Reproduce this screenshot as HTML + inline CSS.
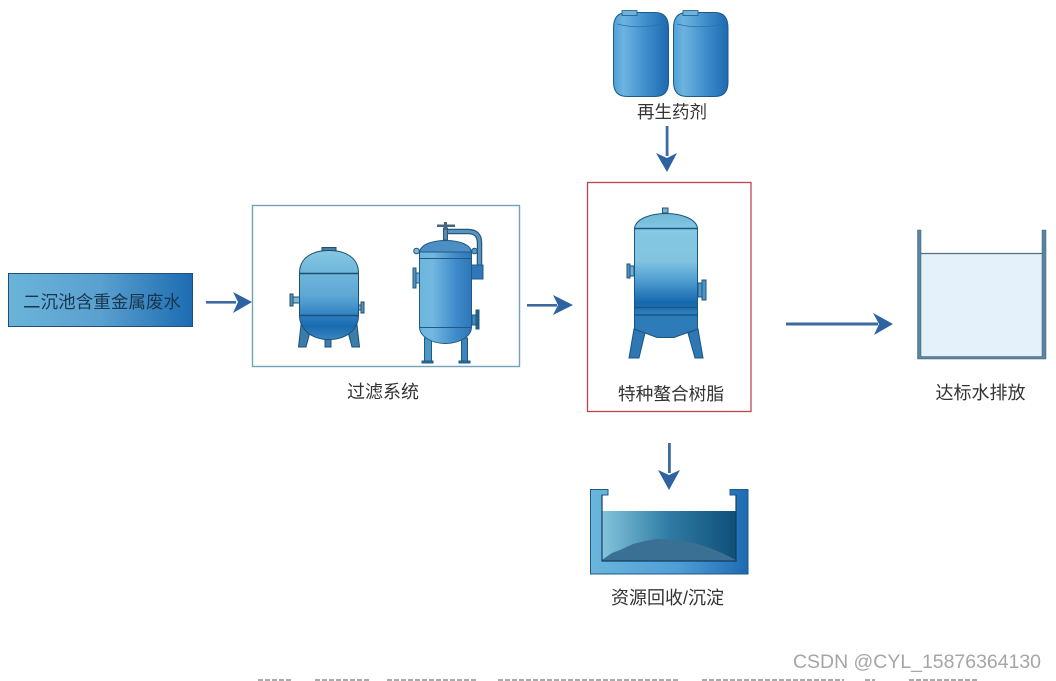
<!DOCTYPE html>
<html><head><meta charset="utf-8">
<style>
html,body{margin:0;padding:0;background:#fff}
svg{display:block;filter:blur(.35px)}
text{font-family:"Liberation Sans","Noto Sans CJK SC",sans-serif;fill:#333}
</style></head>
<body>
<svg width="1056" height="681" viewBox="0 0 1056 681" xmlns="http://www.w3.org/2000/svg">
<defs>
<linearGradient id="h1" x1="0" x2="1" y1="0" y2="0"><stop offset="0" stop-color="#4f9fd6"/><stop offset=".18" stop-color="#6cb4e0"/><stop offset=".6" stop-color="#3f8ccb"/><stop offset="1" stop-color="#1c69b0"/></linearGradient>
<linearGradient id="box" x1="0" x2="1" y1="0" y2="0"><stop offset="0" stop-color="#6ab4d8"/><stop offset=".5" stop-color="#5aa0d0"/><stop offset="1" stop-color="#1c6cb2"/></linearGradient>
<linearGradient id="t1" x1="0" x2="0" y1="0" y2="1"><stop offset="0" stop-color="#86c8e2"/><stop offset=".25" stop-color="#6fb6da"/><stop offset=".5" stop-color="#5fa8d6"/><stop offset=".75" stop-color="#2a7dbf"/><stop offset=".85" stop-color="#176bb0"/><stop offset="1" stop-color="#3a86c0"/></linearGradient>
<linearGradient id="t2" x1="0" x2="1" y1="0" y2="0"><stop offset="0" stop-color="#6cb6de"/><stop offset=".25" stop-color="#72b8e0"/><stop offset=".7" stop-color="#3f8aca"/><stop offset="1" stop-color="#2e77b8"/></linearGradient>
<linearGradient id="t3" x1="0" x2="0" y1="0" y2="1"><stop offset="0" stop-color="#70b8d8"/><stop offset=".14" stop-color="#84c8e2"/><stop offset=".38" stop-color="#82c4e0"/><stop offset=".55" stop-color="#4d9bd0"/><stop offset=".72" stop-color="#1567ae"/><stop offset=".8" stop-color="#2c7cbc"/><stop offset="1" stop-color="#2f7bb6"/></linearGradient>
<linearGradient id="water" x1="0" x2="1" y1="0" y2="0"><stop offset="0" stop-color="#84c4dc"/><stop offset=".5" stop-color="#2f7ba4"/><stop offset="1" stop-color="#0f4f78"/></linearGradient>
<linearGradient id="wall" x1="0" x2="1" y1="0" y2="0"><stop offset="0" stop-color="#6ab6dc"/><stop offset=".55" stop-color="#4f9ed6"/><stop offset="1" stop-color="#1e6ab2"/></linearGradient>
</defs>
<rect width="1056" height="681" fill="#fff"/>

<!-- jugs -->
<g stroke="#1d5a86" stroke-width="1">
<path d="M627 12.500 H655 Q668.500 12.500 668.500 28 V82 Q668.500 96.500 655 96.500 H627 Q613.500 96.500 613.500 82 V28 Q613.500 12.500 627 12.500Z" fill="url(#h1)"/>
<rect x="622" y="10.500" width="15" height="5" fill="#6fb2dc" stroke-width=".8"/>
<path d="M617 24q24 6 49 -1" fill="none" stroke="#2a70a8" stroke-width=".8"/>
<path d="M687 12.500 H715 Q728 12.500 728 28 V82 Q728 96.500 715 96.500 H687 Q673.500 96.500 673.500 82 V28 Q673.500 12.500 687 12.500Z" fill="url(#h1)"/>
<rect x="683" y="10.500" width="15" height="5" fill="#6fb2dc" stroke-width=".8"/>
<path d="M677 24q24 6 49 -1" fill="none" stroke="#2a70a8" stroke-width=".8"/>
</g>
<text x="672" y="118" font-size="17.500" text-anchor="middle">再生药剂</text>

<!-- arrows -->
<g fill="#2d62a3" stroke="none">
<rect x="665.700" y="126" width="2.800" height="30" fill="#3e6b9f"/>
<path d="M656 153 L667 158 L677 153 L667 172Z"/>
<rect x="206" y="301" width="30" height="2.600" fill="#3e6b9f"/>
<path d="M233 292 L252 302 L233 313 L238 302Z"/>
<rect x="527" y="304" width="30" height="2.600" fill="#3e6b9f"/>
<path d="M553 295 L573 305 L553 315 L558 305Z"/>
<rect x="786" y="322.500" width="92" height="3" fill="#3e6b9f"/>
<path d="M873 313 L893 324 L874 335 L879 324Z"/>
<rect x="668" y="443" width="2.800" height="30" fill="#3e6b9f"/>
<path d="M658 470 L669 475 L680 470 L669 490Z"/>
</g>

<!-- source box -->
<rect x="8.500" y="273.500" width="184" height="53" fill="url(#box)" stroke="#1f4f78" stroke-width="1"/>
<text x="102" y="308" font-size="17.500" text-anchor="middle" textLength="158" style="fill:#17374f">二沉池含重金属废水</text>

<!-- filter box -->
<rect x="252.500" y="205.500" width="267" height="161" fill="#fff" stroke="#6fa3b8" stroke-width="1.400"/>

<!-- tank 1 -->
<g stroke="#1d4f72" stroke-width="1">
<path d="M301 325 L298.500 347 H306 L310 332Z" fill="#3a7cab"/>
<path d="M357 325 L359.500 347 H352 L348 332Z" fill="#3a7cab"/>
<rect x="325" y="338" width="6" height="9" fill="#3a7cab"/>
<rect x="322" y="247.500" width="14" height="4" fill="#4a7c9c"/>
<rect x="290" y="294" width="3" height="12" fill="#5b93b6"/>
<rect x="293" y="297" width="7" height="6" fill="#7cb8d8"/>
<rect x="358" y="305" width="3" height="5" fill="#7cb8d8"/>
<rect x="361" y="302" width="3" height="11" fill="#5b93b6"/>
<path d="M299.500 273 C299.500 258 312 250.500 329 250.500 C346 250.500 358.500 258 358.500 273 V315 C358.500 330 346 339.500 329 339.500 C312 339.500 299.500 330 299.500 315Z" fill="url(#t1)"/>
<path d="M299.500 273.500H358.500M299.500 315.500H358.500" fill="none" stroke-width="1.600"/>
</g>

<!-- tank 2 -->
<g stroke="#1f5a82" stroke-width="1">
<rect x="424.500" y="338" width="7" height="24" fill="#4d97c8"/>
<rect x="461.500" y="338" width="6" height="24" fill="#3c86bc"/>
<rect x="422" y="361" width="11" height="2" fill="#2f6f9a"/>
<rect x="459" y="361" width="11" height="2" fill="#2f6f9a"/>
<rect x="413" y="268" width="3" height="20" fill="#5e93b4"/>
<rect x="416" y="273" width="3.500" height="10" fill="#6eb0d8"/>
<rect x="476" y="310" width="3" height="19" fill="#27608c"/>
<rect x="472" y="315" width="4" height="10" fill="#3d88c0"/>
<path d="M443 231.500 H468 Q479.500 231.500 479.500 243 V265" fill="none" stroke="#1f5a82" stroke-width="5.500"/>
<path d="M443 231.500 H468 Q479.500 231.500 479.500 243 V265" fill="none" stroke="#5c93b8" stroke-width="3"/>
<rect x="471.500" y="265" width="11.500" height="14" fill="#2f77b8"/>
<rect x="443.500" y="228" width="4" height="12" fill="#5d8aa8"/>
<rect x="437" y="224.500" width="18" height="2.500" fill="#45667e" stroke="none"/>
<rect x="444" y="222" width="3" height="8" fill="#45667e" stroke="none"/>
<path d="M419.500 252 C421 244 433 240.500 445.500 240.500 C459 240.500 470 244 471.500 252Z" fill="#4d8fc4"/>
<circle cx="416.500" cy="251" r="2.800" fill="#89b7ce"/>
<circle cx="474.500" cy="251" r="2.800" fill="#5f97b8"/>
<path d="M419.500 252 H471.500 V327 C471.500 336 460 343.500 445.500 343.500 C431 343.500 419.500 336 419.500 327Z" fill="url(#t2)"/>
<path d="M419.500 258.500H471.500M419.500 327.500H471.500" fill="none"/>
</g>

<!-- red box -->
<rect x="587.500" y="182.500" width="163.500" height="229" fill="#fff" stroke="#c0444f" stroke-width="1.300"/>

<!-- main tank -->
<g stroke="#1b567f" stroke-width="1">
<path d="M634 329 L629 358 H639 L645 333Z" fill="#2f77b4"/>
<path d="M698 329 L703 358 H695 L688 333Z" fill="#2f77b4"/>
<rect x="662.500" y="208" width="5.500" height="5" fill="#7cb0cc"/>
<rect x="627" y="264" width="3" height="14" fill="#5d8fbc"/>
<rect x="630" y="266" width="4" height="10" fill="#6fb3d8"/>
<rect x="698" y="283" width="4" height="14" fill="#4f98c8"/>
<rect x="702" y="280" width="4" height="20" fill="#4d97c8"/>
<path d="M634.500 228 C636 219 650 213.500 666 213.500 C682 213.500 696 219 697.500 228 V329 L674 337.500 H657 L634.500 329Z" fill="url(#t3)"/>
<path d="M634.500 228.500H697.500M634.500 307.500H697.500M634.500 315H697.500" fill="none" stroke-width="1.500"/>
</g>
<text x="671" y="400" font-size="17.700" text-anchor="middle">特种螯合树脂</text>
<text x="383" y="398" font-size="18" text-anchor="middle">过滤系统</text>

<!-- right tank -->
<rect x="921" y="253" width="121" height="103" fill="#e4f1fb"/>
<path d="M921 253.500H1042" stroke="#4c6f84" stroke-width="1.200"/>
<path d="M921 356.500H1042V230H1046V359H917.500V230H921Z" fill="#5a84a0" stroke="#3a6078" stroke-width=".5"/>
<text x="980.500" y="399" font-size="18" text-anchor="middle">达标水排放</text>

<!-- basin -->
<path d="M590.500 489.500 H608 V495 H602 V561 H736 V495 H730 V489.500 H748 V574 H590.500Z" fill="url(#wall)" stroke="#1f5a82" stroke-width="1"/>
<rect x="602" y="511" width="134" height="50" fill="url(#water)"/>
<path d="M602 560 L612 553 L620 550 L633 544 L645 541 L657 539 L680 540 L695 543 L707 547 L722 553 L736 560 V561 H602Z" fill="#3a7094"/>
<path d="M602 495 V561 H736 V495" fill="none" stroke="#123f60" stroke-width="1.200"/>
<text x="667.500" y="604" font-size="18" text-anchor="middle">资源回收/沉淀</text>

<!-- watermark -->
<text x="793" y="668" font-size="19" textLength="248" lengthAdjust="spacingAndGlyphs" style="fill:#a6a6a6">CSDN @CYL_15876364130</text>
<!-- unreadable cut-off line at the bottom edge, drawn as faint marks -->
<path d="M258 680H291M315 680H371M387 680H477M498 680H679M702 680H844M865 680H875M909 680H979" fill="none" stroke="#aaa" stroke-width="2" stroke-dasharray="5 2"/>
</svg>
</body></html>
